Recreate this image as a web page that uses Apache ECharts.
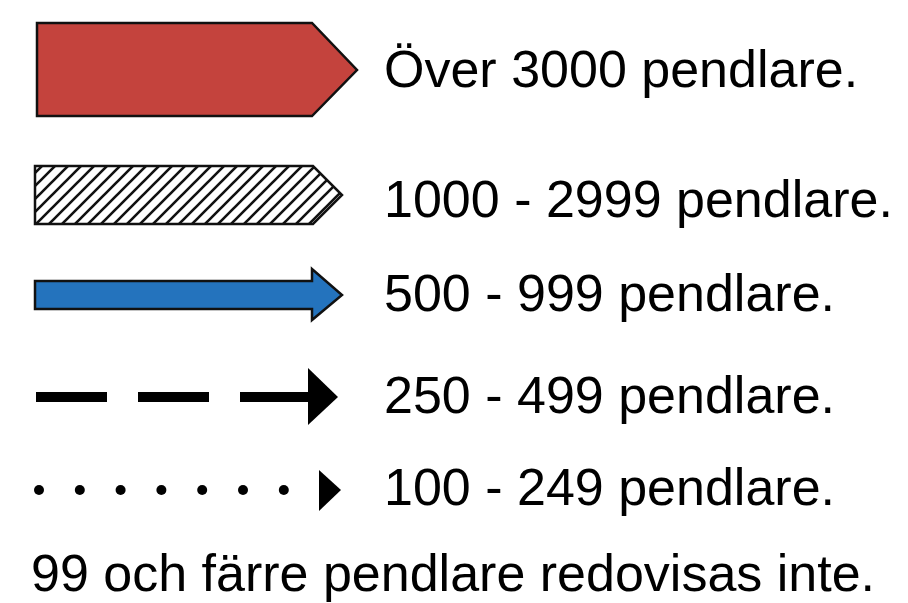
<!DOCTYPE html>
<html>
<head>
<meta charset="utf-8">
<script src="https://cdn.jsdelivr.net/npm/echarts@6/dist/echarts.min.js"></script>
<style>
html,body{margin:0;padding:0;background:#fff;}
#main{width:908px;height:603px;}
</style>
</head>
<body>
<div id="main"></div>
<script>
// ---- content ----
const rowLabels = ['Över 3000 pendlare.', '1000 - 2999 pendlare.', '500 - 999 pendlare.', '250 - 499 pendlare.', '100 - 249 pendlare.'];
const rowKinds = ['solidRed', 'hatched', 'blueArrow', 'dashed', 'dotted'];
const footnote = '99 och färre pendlare redovisas inte.';

// ---- layout / style (pixel units on a hidden 908x603 value scale) ----
const W = 908, H = 603;
const rowCenters = [70, 196, 295, 397, 490];
const textCenters = [73, 203, 297, 399, 491];
const textX = 384;
const footY = 577, footX = 31;
const FONT = '52px "Liberation Sans", Arial, Helvetica, sans-serif';
const RED = '#c4433d', BLUE = '#2473bd';

function hatchPattern() {
  const s = 13;
  const c = document.createElement('canvas');
  c.width = s; c.height = s;
  const g = c.getContext('2d');
  g.fillStyle = '#fff'; g.fillRect(0, 0, s, s);
  g.strokeStyle = '#111'; g.lineWidth = 2.6;
  g.beginPath();
  g.moveTo(-3, s + 3); g.lineTo(s + 3, -3);
  g.moveTo(-3, 3); g.lineTo(3, -3);
  g.moveTo(s - 3, s + 3); g.lineTo(s + 3, s - 3);
  g.stroke();
  return { image: c, repeat: 'repeat' };
}
const HATCH = hatchPattern();

function renderItem(params, api) {
  const idx = api.value(0);
  const kind = rowKinds[idx];
  const cy = rowCenters[idx];
  const P = (x, y) => api.coord([x, y]);
  const kids = [];
  if (kind === 'solidRed') {
    kids.push({ type: 'polygon', shape: { points: [P(37, cy - 47), P(312, cy - 47), P(357, cy), P(312, cy + 46), P(37, cy + 46)] },
      style: { fill: RED, stroke: '#111', lineWidth: 2.5, lineJoin: 'miter' } });
  } else if (kind === 'hatched') {
    kids.push({ type: 'polygon', shape: { points: [P(35, cy - 30), P(313, cy - 30), P(342, cy - 1), P(313, cy + 28), P(35, cy + 28)] },
      style: { fill: HATCH, stroke: '#111', lineWidth: 2.5 } });
  } else if (kind === 'blueArrow') {
    kids.push({ type: 'polygon', shape: { points: [P(35, cy - 14), P(312, cy - 14), P(312, cy - 26), P(342, cy), P(312, cy + 25), P(312, cy + 14), P(35, cy + 14)] },
      style: { fill: BLUE, stroke: '#111', lineWidth: 2.5 } });
  } else if (kind === 'dashed') {
    const a = P(36, cy), b = P(310, cy);
    kids.push({ type: 'line', shape: { x1: a[0], y1: a[1], x2: b[0], y2: b[1] },
      style: { stroke: '#000', lineWidth: 10, lineDash: [71, 31], lineCap: 'butt' } });
    kids.push({ type: 'polygon', shape: { points: [P(308, cy - 29), P(338, cy), P(308, cy + 28)] }, style: { fill: '#000' } });
  } else if (kind === 'dotted') {
    for (let i = 0; i < 7; i++) {
      const c = P(39 + i * 40.8, cy);
      kids.push({ type: 'circle', shape: { cx: c[0], cy: c[1], r: 5 }, style: { fill: '#000' } });
    }
    kids.push({ type: 'polygon', shape: { points: [P(319, cy - 20), P(341, cy), P(319, cy + 21)] }, style: { fill: '#000' } });
  }
  const t = P(textX, textCenters[idx]);
  kids.push({ type: 'text', style: { text: rowLabels[idx], x: t[0], y: t[1], font: FONT, fill: '#000', align: 'left', verticalAlign: 'middle' } });
  if (idx === rowLabels.length - 1) {
    const f = P(footX, footY);
    kids.push({ type: 'text', style: { text: footnote, x: f[0], y: f[1], font: FONT, fill: '#000', align: 'left', verticalAlign: 'middle' } });
  }
  return { type: 'group', children: kids };
}

const chart = echarts.init(document.getElementById('main'), null, { renderer: 'canvas' });
chart.setOption({
  animation: false,
  backgroundColor: '#fff',
  grid: { left: 0, top: 0, width: W, height: H },
  xAxis: { type: 'value', min: 0, max: W, show: false },
  yAxis: { type: 'value', min: 0, max: H, inverse: true, show: false },
  series: [{
    type: 'custom',
    renderItem: renderItem,
    clip: false,
    data: rowLabels.map((_, i) => [i]),
    encode: { x: -1, y: -1 }
  }]
});
</script>
</body>
</html>
